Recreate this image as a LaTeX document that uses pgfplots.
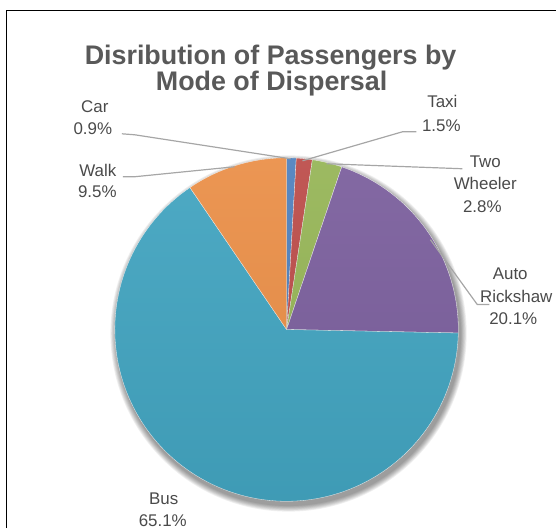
\documentclass[border=0pt]{standalone}
\usepackage{fontspec}
\setmainfont{Liberation Sans}
\usepackage{pgfplots}
\pgfplotsset{compat=1.18}

\definecolor{cCar}{HTML}{568BCB}
\definecolor{cTaxi}{HTML}{C95350}
\definecolor{cTwo}{HTML}{A1C25E}
\definecolor{cAuto}{HTML}{8467A8}
\definecolor{cBus}{HTML}{48B0CE}
\definecolor{cWalk}{HTML}{FA9A4E}
\definecolor{titlegray}{HTML}{595959}
\definecolor{labelgray}{HTML}{4A4A4A}
\definecolor{leadergray}{HTML}{A6A6A6}

% shares of passengers (percent), clockwise from twelve o'clock
\def\vCar{0.9}
\def\vTaxi{1.5}
\def\vTwo{2.8}
\def\vAuto{20.1}
\def\vBus{65.1}
\def\vWalk{9.5}

% cumulative boundaries of the slices
\pgfmathsetmacro\cA{\vCar}
\pgfmathsetmacro\cB{\cA+\vTaxi}
\pgfmathsetmacro\cC{\cB+\vTwo}
\pgfmathsetmacro\cD{\cC+\vAuto}
\pgfmathsetmacro\cE{\cD+\vBus}
\pgfmathsetmacro\cF{\cE+\vWalk}
\let\total\cF

% pie centre and radius
\def\cx{287}
\def\cy{330}
\def\R{172}

\newcommand{\labfont}{\fontsize{17}{22}\selectfont\color{labelgray}}
\newcommand{\titfont}{\fontsize{27}{27}\selectfont\bfseries\color{titlegray}}

\begin{document}
\begin{tikzpicture}
\begin{axis}[
  x=1bp, y=1bp,
  xmin=0, xmax=557, ymin=0, ymax=529,
  y dir=reverse,
  hide axis, clip=false,
]
\path (axis cs:0,0) rectangle (axis cs:557,529);

% frame of the chart area
\draw[black, line width=1.7bp] (axis cs:6.5,529) -- (axis cs:6.5,10.5) -- (axis cs:557,10.5);

% soft drop shadow under the pie
\pgfplotsinvokeforeach{1,...,8}{
  \fill[black, fill opacity=0.06] (axis cs:289,334) circle[radius={\R*1bp+#1*0.8bp}];
}

% slices
\addplot[fill=cCar, draw=white, line width=0.3bp, domain=0:\cA, samples=4]
  ({\cx+\R*sin(x*360/\total)}, {\cy-\R*cos(x*360/\total)}) -- (axis cs:\cx,\cy) -- cycle;
\addplot[fill=cTaxi, draw=white, line width=0.3bp, domain=\cA:\cB, samples=5]
  ({\cx+\R*sin(x*360/\total)}, {\cy-\R*cos(x*360/\total)}) -- (axis cs:\cx,\cy) -- cycle;
\addplot[fill=cTwo, draw=white, line width=0.3bp, domain=\cB:\cC, samples=8]
  ({\cx+\R*sin(x*360/\total)}, {\cy-\R*cos(x*360/\total)}) -- (axis cs:\cx,\cy) -- cycle;
\addplot[fill=cAuto, draw=white, line width=0.3bp, domain=\cC:\cD, samples=40]
  ({\cx+\R*sin(x*360/\total)}, {\cy-\R*cos(x*360/\total)}) -- (axis cs:\cx,\cy) -- cycle;
\addplot[fill=cBus, draw=white, line width=0.3bp, domain=\cD:\cE, samples=120]
  ({\cx+\R*sin(x*360/\total)}, {\cy-\R*cos(x*360/\total)}) -- (axis cs:\cx,\cy) -- cycle;
\addplot[fill=cWalk, draw=white, line width=0.3bp, domain=\cE:\cF, samples=20]
  ({\cx+\R*sin(x*360/\total)}, {\cy-\R*cos(x*360/\total)}) -- (axis cs:\cx,\cy) -- cycle;

% light-to-dark sheen over the pie
\fill[top color=white, bottom color=black, fill opacity=0.06] (axis cs:\cx,\cy) circle[radius=\R*1bp];

% title
\node[anchor=base, inner sep=0pt] at (axis cs:271,65) {\titfont Disribution of Passengers by};
\node[anchor=base, inner sep=0pt] at (axis cs:272,91) {\titfont Mode of Dispersal};

% leader lines
\draw[leadergray, line width=1.2bp] (axis cs:122,134) -- (axis cs:135,135) -- (axis cs:291,159);
\draw[leadergray, line width=1.2bp] (axis cs:123,177) -- (axis cs:135,177) -- (axis cs:235,167);
\draw[leadergray, line width=1.2bp] (axis cs:417,132) -- (axis cs:403,132) -- (axis cs:303,161);
\draw[leadergray, line width=1.2bp] (axis cs:463,169) -- (axis cs:327,164);
\draw[leadergray, line width=1.2bp] (axis cs:490,305) -- (axis cs:478,305) -- (axis cs:431,240);

% data labels
\node[anchor=base, inner sep=0pt] at (axis cs:95,113) {\labfont Car};
\node[anchor=base, inner sep=0pt] at (axis cs:93,135) {\labfont 0.9\%};
\node[anchor=base, inner sep=0pt] at (axis cs:98,177) {\labfont Walk};
\node[anchor=base, inner sep=0pt] at (axis cs:97.5,198) {\labfont 9.5\%};
\node[anchor=base, inner sep=0pt] at (axis cs:443,108) {\labfont Taxi};
\node[anchor=base, inner sep=0pt] at (axis cs:442,132) {\labfont 1.5\%};
\node[anchor=base, inner sep=0pt] at (axis cs:486,168) {\labfont Two};
\node[anchor=base, inner sep=0pt] at (axis cs:486,190) {\labfont Wheeler};
\node[anchor=base, inner sep=0pt] at (axis cs:483,213) {\labfont 2.8\%};
\node[anchor=base, inner sep=0pt] at (axis cs:511,280) {\labfont Auto};
\node[anchor=base, inner sep=0pt] at (axis cs:517,303) {\labfont Rickshaw};
\node[anchor=base, inner sep=0pt] at (axis cs:514,325) {\labfont 20.1\%};
\node[anchor=base, inner sep=0pt] at (axis cs:164,505) {\labfont Bus};
\node[anchor=base, inner sep=0pt] at (axis cs:163,527) {\labfont 65.1\%};
\end{axis}
\end{tikzpicture}
\end{document}
